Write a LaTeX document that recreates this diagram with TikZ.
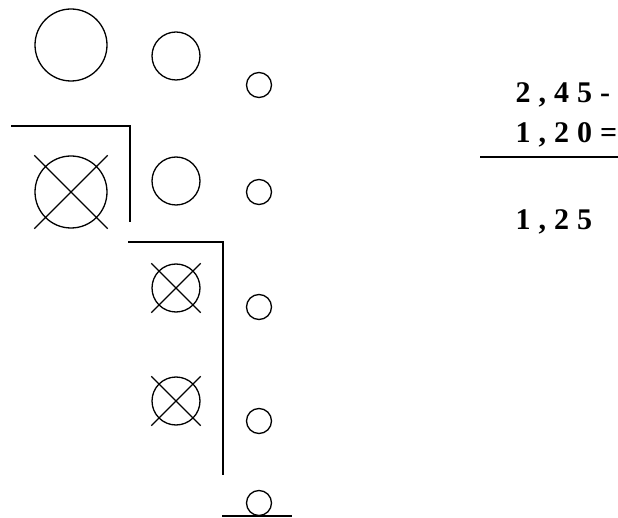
\documentclass[tikz,border=0pt]{standalone}
\usepackage{fontspec}
\setmainfont{Liberation Serif}
\usepackage{tikz}
\usetikzlibrary{shapes.misc, positioning}

\newcommand{\gap}{\hspace{8pt}}

\begin{document}
\begin{tikzpicture}[x=1pt, y=-1pt, line width=1.3pt,
    bigring/.style={circle, draw, minimum size=72pt, inner sep=0pt},
    midring/.style={circle, draw, minimum size=48pt, inner sep=0pt},
    smallring/.style={circle, draw, minimum size=25pt, inner sep=0pt},
    bigx/.style={cross out, draw, minimum size=72pt, inner sep=0pt},
    midx/.style={cross out, draw, minimum size=48pt, inner sep=0pt},
    sumtext/.style={anchor=base west, inner sep=0pt, font=\fontsize{30}{30}\selectfont\bfseries}]
        \useasboundingbox (0,0) rectangle (618,518);

        % first row
        \node[bigring] (b1) at (71,45) {};
        \node[midring] (m1) at (176,56) {};
        \node[smallring] (s1) at (259,85) {};

        % second row
        \node[bigring] (b2) at (71,192) {};
        \node[bigx] at (b2) {};
        \node[midring] (m2) at (176,181) {};
        \node[smallring] (s2) at (259,192) {};

        % third and fourth rows
        \node[midring] (m3) at (176,288) {};
        \node[midx] at (m3) {};
        \node[smallring] (s3) at (259,307) {};
        \node[midring] (m4) at (176,401) {};
        \node[midx] at (m4) {};
        \node[smallring] (s4) at (259,421) {};

        % last one
        \node[smallring] (s5) at (259,503) {};
        \draw[line width=2pt] (222,515.5) -- (292,515.5);

        % brackets
        \draw[line width=2pt] (11,126) -- (130,126) -- (130,222);
        \draw[line width=2pt] (128,242) -- (223,242) -- (223,475);

        % subtraction
        \node[sumtext] (a) at (515,103) {2\gap,\gap4\gap5\gap-};
        \node[sumtext] (b) at (515,143) {1\gap,\gap2\gap0\gap=};
        \node[sumtext] (c) at (515,230) {1\gap,\gap2\gap5};
        \draw[line width=2pt] (480,157) -- (630,157);
    \end{tikzpicture}
\end{document}
